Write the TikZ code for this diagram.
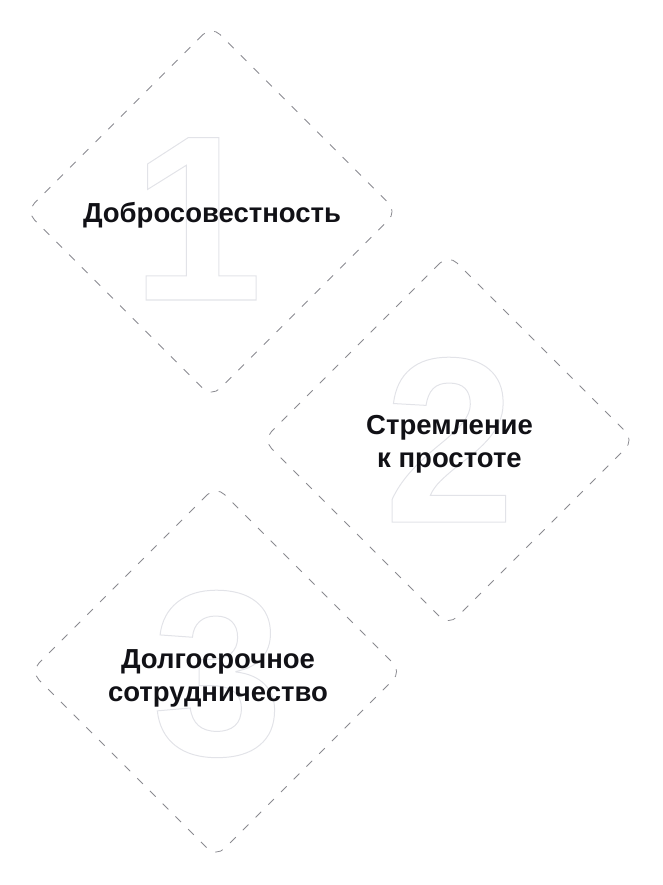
\documentclass[tikz,border=0pt]{standalone}
\usepackage{fontspec}
\setmainfont{Liberation Sans}
\usepackage{tikz}
\usetikzlibrary{positioning}
\definecolor{ink}{RGB}{17,17,22}
\definecolor{rim}{RGB}{138,138,144}
\definecolor{ghost}{RGB}{226,227,232}
\newcommand{\hollow}[1]{\special{pdf:literal direct 1 Tr 1 w}#1\special{pdf:literal direct 0 Tr}}

\begin{document}
\begin{tikzpicture}[x=1pt, y=-1pt,
      tile/.style={draw=rim, line width=0.8pt, dash pattern=on 8pt off 10pt,
        rounded corners=12pt, minimum size=262.3pt, inner sep=0pt, rotate=45},
      digit/.style={anchor=base, inner sep=0pt, text=ghost,
        font=\bfseries\fontsize{236}{236}\selectfont},
      title/.style={anchor=base, inner sep=0pt, align=center, text=ink,
        font=\bfseries\fontsize{27.5}{33}\selectfont}]
    \useasboundingbox (0,0) rectangle (662,885);
    % big outlined numerals behind
    \node[digit] (n1) at (197,300) {\hollow{1}};
    \node[digit] (n2) at (449.5,522) {\hollow{2}};
    \node[digit] (n3) at (217.5,755) {\hollow{3}};
    % dashed tiles
    \node[tile] (a) at (211.5,211.5) {};
    \node[tile] (b) at (448.5,440) {};
    \node[tile] (c) at (216,671.5) {};
    % titles (base = last line)
    \node[title] (t1) at (212,222.7) {Добросовестность};
    \node[title] (t2) at (449.5,467.5) {Стремление\\к простоте};
    \node[title] (t3) at (218,701.5) {Долгосрочное\\сотрудничество};
  \end{tikzpicture}
\end{document}
